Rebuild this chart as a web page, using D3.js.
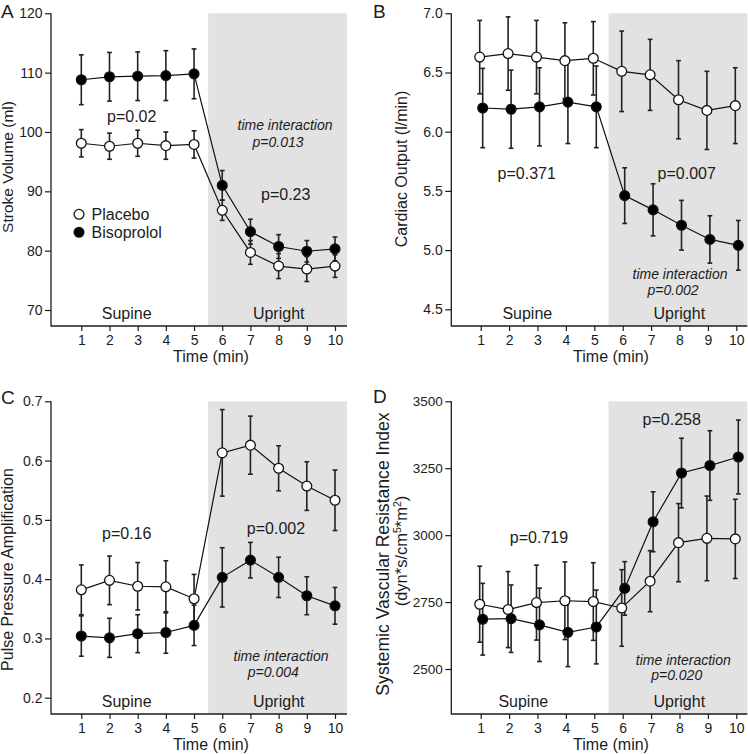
<!DOCTYPE html>
<html><head><meta charset="utf-8">
<script src="https://cdn.jsdelivr.net/npm/d3@7"></script>
<style>
body{margin:0;background:#fff}
svg{display:block}
text{font-family:"Liberation Sans",Arial,Helvetica,sans-serif;fill:#1c1c1c}
</style>
</head><body>
<svg id="chart" width="748" height="754"></svg>
<script>
// ---------- data ----------
const times = [1, 2, 3, 4, 5, 6, 7, 8, 9, 10];

// A: Stroke Volume (ml)
const svPlacebo    = [98.1, 97.6, 98.1, 97.7, 97.9, 86.8, 79.7, 77.4, 76.9, 77.4];
const svPlaceboErr = [2.3, 2.2, 2.2, 2.3, 2.3, 1.7, 2.0, 2.1, 2.1, 1.9];
const svBiso       = [108.8, 109.3, 109.4, 109.5, 109.8, 91.0, 83.2, 80.7, 79.9, 80.3];
const svBisoErr    = [4.2, 4.1, 4.1, 4.2, 4.2, 2.5, 2.1, 2.0, 1.8, 2.0];
const svTicks      = [70, 80, 90, 100, 110, 120];

// B: Cardiac Output (l/min)
const coPlacebo    = [6.63, 6.66, 6.63, 6.60, 6.62, 6.51, 6.48, 6.27, 6.18, 6.22];
const coPlaceboErr = [0.31, 0.31, 0.31, 0.32, 0.31, 0.34, 0.30, 0.33, 0.33, 0.32];
const coBiso       = [6.20, 6.19, 6.21, 6.25, 6.21, 5.46, 5.34, 5.21, 5.09, 5.04];
const coBisoErr    = [0.335, 0.33, 0.33, 0.35, 0.345, 0.235, 0.22, 0.21, 0.20, 0.21];
const coTicks      = [4.5, 5.0, 5.5, 6.0, 6.5, 7.0];

// C: Pulse Pressure Amplification
const ppaPlacebo    = [0.382, 0.398, 0.388, 0.387, 0.367, 0.613, 0.626, 0.587, 0.557, 0.533];
const ppaPlaceboErr = [0.042, 0.041, 0.040, 0.044, 0.041, 0.073, 0.049, 0.038, 0.041, 0.051];
const ppaBiso       = [0.304, 0.301, 0.308, 0.310, 0.322, 0.403, 0.432, 0.403, 0.372, 0.355];
const ppaBisoErr    = [0.034, 0.033, 0.032, 0.035, 0.034, 0.050, 0.030, 0.034, 0.032, 0.031];
const ppaTicks      = [0.2, 0.3, 0.4, 0.5, 0.6, 0.7];

// D: Systemic Vascular Resistance Index
const svriPlacebo    = [2742, 2722, 2748, 2755, 2752, 2728, 2828, 2972, 2988, 2986];
const svriPlaceboErr = [142, 142, 140, 145, 145, 143, 114, 146, 158, 148];
const svriBiso       = [2686, 2688, 2665, 2637, 2657, 2801, 3050, 3232, 3260, 3292];
const svriBisoErr    = [134, 126, 137, 128, 138, 100, 112, 130, 130, 138];
const svriTicks      = [2500, 2750, 3000, 3250, 3500];

const seriesNames = ["Placebo", "Bisoprolol"];
const phaseNames  = ["Supine", "Upright"];

// ---------- layout ----------
const panels = [
  { label: "A", lab: [1, 17.5], ax: 51, x1: 81.3, x10: 335, right: 347,
    top: 13.3, bottom: 326, yDom: [70, 120], yR: [310, 13.3],
    ticks: svTicks, fmt: d3.format("d"), tickFs: 14,
    pl: svPlacebo, plE: svPlaceboErr, bi: svBiso, biE: svBisoErr, off: [0, 0],
    title: ["Stroke Volume (ml)"], titleX: [12.8], titleY: [167], titleFs: 15.5,
    timeX: 211,
    notes: [
      { t: "p=0.02", x: 131.7, y: 122 },
      { t: "time interaction", x: 285, y: 130, it: true },
      { t: "p=0.013", x: 278, y: 146.5, it: true },
      { t: "p=0.23", x: 285.7, y: 199.5 }
    ],
    phase: [126.7, 278.7], legend: true },
  { label: "B", lab: [373, 17.5], ax: 451.3, x1: 480.7, x10: 736.3, right: 747.3,
    top: 13.3, bottom: 326, yDom: [4.5, 7.0], yR: [309.3, 13.3],
    ticks: coTicks, fmt: d3.format(".1f"), tickFs: 14,
    pl: coPlacebo, plE: coPlaceboErr, bi: coBiso, biE: coBisoErr, off: [-1, 2],
    title: ["Cardiac Output (l/min)"], titleX: [406.5], titleY: [169], titleFs: 16,
    timeX: 611,
    notes: [
      { t: "p=0.371", x: 526.7, y: 179 },
      { t: "p=0.007", x: 686.7, y: 179 },
      { t: "time interaction", x: 680, y: 278.5, it: true },
      { t: "p=0.002", x: 673, y: 295, it: true }
    ],
    phase: [527.3, 679.3] },
  { label: "C", lab: [1, 404], ax: 51, x1: 81.3, x10: 335, right: 347,
    top: 401.3, bottom: 714, yDom: [0.2, 0.7], yR: [697.7, 401.3],
    ticks: ppaTicks, fmt: d3.format(".1f"), tickFs: 14,
    pl: ppaPlacebo, plE: ppaPlaceboErr, bi: ppaBiso, biE: ppaBisoErr, off: [0, 0],
    title: ["Pulse Pressure Amplification"], titleX: [13.3], titleY: [569.5], titleFs: 16,
    timeX: 211,
    notes: [
      { t: "p=0.16", x: 126.7, y: 539.3 },
      { t: "p=0.002", x: 276, y: 533.5 },
      { t: "time interaction", x: 281, y: 661.3, it: true },
      { t: "p=0.004", x: 273.3, y: 677, it: true }
    ],
    phase: [126.7, 278.7] },
  { label: "D", lab: [373, 403], ax: 451.3, x1: 480.7, x10: 736.3, right: 747.3,
    top: 401.3, bottom: 714, yDom: [2500, 3500], yR: [669, 401.3],
    ticks: svriTicks, fmt: d3.format("d"), tickFs: 13.5,
    pl: svriPlacebo, plE: svriPlaceboErr, bi: svriBiso, biE: svriBisoErr, off: [-1, 2],
    title: ["Systemic Vascular Resistance Index", "sup"], titleX: [389, 407], titleY: [554, 551], titleFs: 17.6,
    timeX: 611,
    notes: [
      { t: "p=0.258", x: 671.7, y: 425 },
      { t: "p=0.719", x: 539, y: 542.5 },
      { t: "time interaction", x: 683.3, y: 664.5, it: true },
      { t: "p=0.020", x: 676.7, y: 679.5, it: true }
    ],
    phase: [523.3, 679.3] }
];

const svg = d3.select("#chart");
const INK = "#1c1c1c";

panels.forEach(p => {
  const g = svg.append("g");
  const x = d3.scaleLinear().domain([1, 10]).range([p.x1, p.x10]);
  const y = d3.scaleLinear().domain(p.yDom).range(p.yR);

  // shaded upright region
  g.append("rect")
    .attr("x", x(5.5)).attr("y", p.top)
    .attr("width", p.right - x(5.5)).attr("height", p.bottom - p.top)
    .attr("fill", "#e2e2e2");

  // axes
  const yAxis = d3.axisLeft(y).tickValues(p.ticks).tickSize(6).tickPadding(2.5).tickFormat(p.fmt);
  const yg = g.append("g").attr("transform", `translate(${p.ax},0)`).call(yAxis);
  yg.select(".domain").remove();
  yg.selectAll("line").attr("stroke", INK).attr("stroke-width", 1.2);
  yg.selectAll("text").attr("font-size", p.tickFs).attr("fill", INK)
    .attr("font-family", '"Liberation Sans",Arial,sans-serif');

  const xAxis = d3.axisBottom(x).tickValues(times).tickSize(5).tickPadding(4).tickFormat(d3.format("d"));
  const xg = g.append("g").attr("transform", `translate(0,${p.bottom})`).call(xAxis);
  xg.select(".domain").remove();
  xg.selectAll("line").attr("stroke", INK).attr("stroke-width", 1.2);
  xg.selectAll("text").attr("font-size", 14).attr("fill", INK)
    .attr("font-family", '"Liberation Sans",Arial,sans-serif');

  g.append("line").attr("x1", p.ax).attr("x2", p.ax).attr("y1", p.top).attr("y2", p.bottom + 0.6)
    .attr("stroke", INK).attr("stroke-width", 1.3);
  g.append("line").attr("x1", p.ax).attr("x2", p.right).attr("y1", p.bottom).attr("y2", p.bottom)
    .attr("stroke", INK).attr("stroke-width", 1.3);

  // series
  const series = [
    { v: p.pl, e: p.plE, fill: "#ffffff", off: p.off[0] },
    { v: p.bi, e: p.biE, fill: "#000000", off: p.off[1] }
  ];
  const line = d3.line().x((d, i) => x(times[i])).y(d => y(d));
  series.forEach(s => {
    g.append("path").attr("d", line(s.v)).attr("transform", `translate(${s.off},0)`)
      .attr("fill", "none").attr("stroke", "#111").attr("stroke-width", 1.2);
  });
  series.forEach(s => {
    const eb = g.append("g").attr("transform", `translate(${s.off},0)`)
      .attr("stroke", "#222").attr("stroke-width", 1.6);
    s.v.forEach((v, i) => {
      const cx = x(times[i]);
      const yt = y(v + s.e[i]), yb = y(v - s.e[i]);
      eb.append("line").attr("x1", cx).attr("x2", cx).attr("y1", yt).attr("y2", yb);
      eb.append("line").attr("x1", cx - 2.4).attr("x2", cx + 2.4).attr("y1", yt).attr("y2", yt);
      eb.append("line").attr("x1", cx - 2.4).attr("x2", cx + 2.4).attr("y1", yb).attr("y2", yb);
    });
  });
  series.forEach(s => {
    g.append("g").attr("transform", `translate(${s.off},0)`)
      .selectAll("circle").data(s.v).join("circle")
      .attr("cx", (d, i) => x(times[i])).attr("cy", d => y(d)).attr("r", 4.9)
      .attr("fill", s.fill).attr("stroke", "#111").attr("stroke-width", 1.3);
  });

  // texts
  p.notes.forEach(n => {
    g.append("text").attr("x", n.x).attr("y", n.y).attr("text-anchor", "middle")
      .attr("font-size", n.it ? 14 : 16).attr("font-style", n.it ? "italic" : "normal")
      .attr("fill", n.it ? "#333" : INK).text(n.t);
  });
  g.append("text").attr("x", p.phase[0]).attr("y", p.bottom - 7).attr("text-anchor", "middle")
    .attr("font-size", 16).text(phaseNames[0]);
  g.append("text").attr("x", p.phase[1]).attr("y", p.bottom - 7).attr("text-anchor", "middle")
    .attr("font-size", 16).text(phaseNames[1]);
  g.append("text").attr("x", p.timeX).attr("y", p.bottom + 36).attr("text-anchor", "middle")
    .attr("font-size", 16).text("Time (min)");
  g.append("text").attr("x", p.lab[0]).attr("y", p.lab[1]).attr("font-size", 19).text(p.label);

  // y titles
  p.title.forEach((t, k) => {
    const tt = g.append("text")
      .attr("transform", `translate(${p.titleX[k]},${p.titleY[k]}) rotate(-90)`)
      .attr("text-anchor", "middle").attr("font-size", k === 0 ? p.titleFs : 16.5);
    if (t === "sup") {
      tt.append("tspan").text("(dyn*s/cm");
      tt.append("tspan").attr("font-size", 10.5).attr("dy", -6.5).text("5");
      tt.append("tspan").attr("dy", 6.5).text("*m");
      tt.append("tspan").attr("font-size", 10.5).attr("dy", -6.5).text("2");
      tt.append("tspan").attr("dy", 6.5).text(")");
    } else {
      tt.text(t);
    }
  });

  // legend
  if (p.legend) {
    [0, 1].forEach(k => {
      g.append("circle").attr("cx", 79).attr("cy", 214.3 + k * 18).attr("r", 4.9)
        .attr("fill", series[k].fill).attr("stroke", "#111").attr("stroke-width", 1.3);
      g.append("text").attr("x", 91.5).attr("y", 220 + k * 18).attr("font-size", 16).text(seriesNames[k]);
    });
  }
});
</script>
</body></html>
